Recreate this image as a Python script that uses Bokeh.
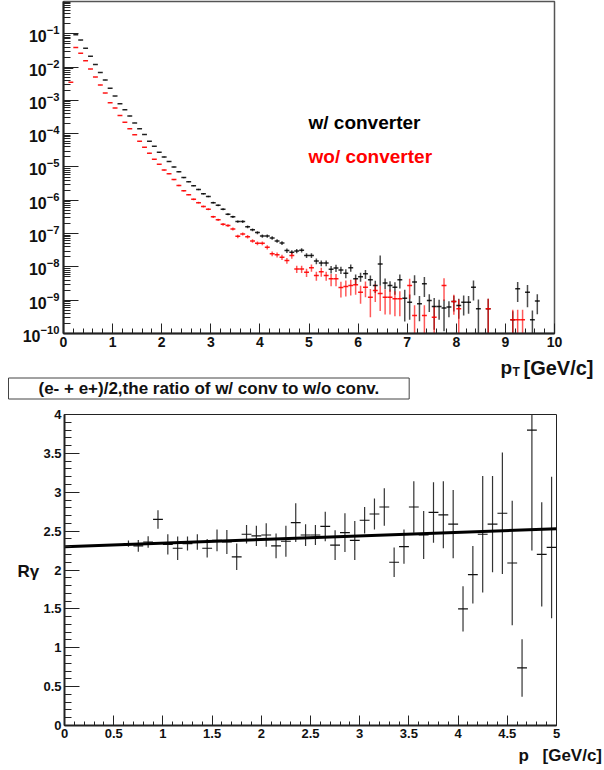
from bokeh.plotting import figure
from bokeh.layouts import column, row
from bokeh.models import (FixedTicker, Label, CustomJSTickFormatter, ColumnDataSource,
                          Range1d, LogTickFormatter)
from bokeh.embed import file_html
from bokeh.resources import INLINE

# ---------------- data: top panel, pT spectra (bin width 0.1 GeV/c) ----------------
pt_w = [0.15, 0.25, 0.35, 0.45, 0.55, 0.65, 0.75, 0.85, 0.95, 1.05,
        1.15, 1.25, 1.35, 1.45, 1.55, 1.65, 1.75, 1.85, 1.95, 2.05,
        2.15, 2.25, 2.35, 2.45, 2.55, 2.65, 2.75, 2.85, 2.95, 3.05,
        3.15, 3.25, 3.35, 3.45, 3.55, 3.65, 3.75, 3.85, 3.95, 4.05,
        4.15, 4.25, 4.35, 4.45, 4.55, 4.65, 4.75, 4.85, 4.95, 5.05,
        5.15, 5.25, 5.35, 5.45, 5.55, 5.65, 5.75, 5.85, 5.95, 6.05,
        6.15, 6.25, 6.35, 6.45, 6.55, 6.65, 6.75, 6.85, 6.95, 7.05,
        7.15, 7.25, 7.35, 7.45, 7.55, 7.65, 7.75, 7.85, 7.95, 8.05,
        8.15, 8.25, 8.35, 8.45,
        8.65, 9.15, 9.25, 9.45, 9.55, 9.65]
yield_w = [9.3e-3, 9.3e-2, 6.5e-2, 3.7e-2, 2.1e-2, 1.2e-2, 6.9e-3, 4.1e-3, 2.3e-3, 1.35e-3,
           7.9e-4, 5.2e-4, 3.4e-4, 2.1e-4, 1.4e-4, 9.5e-5, 5.9e-5, 4.2e-5, 2.75e-5, 2.0e-5,
           1.45e-5, 1.0e-5, 7.2e-6, 4.8e-6, 3.6e-6, 2.75e-6, 2.1e-6, 1.58e-6, 1.3e-6, 8.5e-7,
           7.1e-7, 5.4e-7, 3.8e-7, 3.2e-7, 2.3e-7, 2.3e-7, 1.6e-7, 1.3e-7, 1.07e-7, 8.5e-8,
           8.5e-8, 7.4e-8, 6.0e-8, 5.2e-8, 3.1e-8, 2.75e-8, 3.0e-8, 3.16e-8, 2.2e-8, 2.2e-8,
           1.5e-8, 1.3e-8, 1.3e-8, 8.5e-9, 9.3e-9, 8.1e-9, 6.5e-9, 9.5e-9, 4.4e-9, 5.1e-9,
           6.2e-9, 4.1e-9, 2.75e-9, 1.23e-8, 3.3e-9, 2.75e-9, 2.45e-9, 4.1e-9, 1.15e-9, 8.7e-10,
           3.5e-9, 7.8e-10, 3.1e-9, 9.8e-10, 6.5e-10, 6.5e-10, 5.8e-10, 6.2e-10, 9.1e-10, 6.9e-10,
           8.7e-10, 8.7e-10, 2.45e-9, 5.5e-10,
           5.5e-10, 2.6e-10, 2.2e-9, 1.74e-9, 2.6e-10, 9.5e-10]
relerr_w = [0.02, 0.01, 0.01, 0.01, 0.01, 0.01, 0.01, 0.01, 0.01, 0.01,
            0.01, 0.01, 0.01, 0.01, 0.02, 0.02, 0.02, 0.02, 0.02, 0.03,
            0.03, 0.03, 0.03, 0.04, 0.04, 0.04, 0.05, 0.05, 0.05, 0.06,
            0.06, 0.07, 0.07, 0.08, 0.08, 0.09, 0.09, 0.10, 0.10, 0.11,
            0.11, 0.12, 0.12, 0.13, 0.15, 0.15, 0.15, 0.15, 0.16, 0.16,
            0.20, 0.20, 0.20, 0.25, 0.25, 0.25, 0.30, 0.25, 0.35, 0.30,
            0.30, 0.35, 0.40, 0.78, 0.35, 0.35, 0.40, 0.45, 0.80, 0.70,
            0.60, 0.70, 0.60, 0.55, 0.80, 0.60, 0.80, 0.50, 0.50, 0.60,
            0.60, 0.55, 0.60, 0.90,
            1.00, 0.80, 0.60, 0.65, 0.90, 0.60]

pt_wo = [0.15, 0.25, 0.35, 0.45, 0.55, 0.65, 0.75, 0.85, 0.95, 1.05,
         1.15, 1.25, 1.35, 1.45, 1.55, 1.65, 1.75, 1.85, 1.95, 2.05,
         2.15, 2.25, 2.35, 2.45, 2.55, 2.65, 2.75, 2.85, 2.95, 3.05,
         3.15, 3.25, 3.35, 3.45, 3.55, 3.65, 3.75, 3.85, 3.95, 4.05,
         4.15, 4.25, 4.35, 4.45, 4.55, 4.65, 4.75, 4.85, 4.95, 5.05,
         5.15, 5.25, 5.35, 5.45, 5.55, 5.65, 5.75, 5.85, 5.95, 6.05,
         6.15, 6.25, 6.35, 6.45, 6.55, 6.65, 6.75, 6.85,
         7.05, 7.15, 7.35, 7.55, 7.75, 7.95, 8.05, 8.65, 9.15, 9.25, 9.35]
yield_wo = [3.5e-3, 3.9e-2, 2.6e-2, 1.55e-2, 8.7e-3, 5.0e-3, 2.9e-3, 1.66e-3, 8.5e-4, 5.9e-4,
            3.5e-4, 2.2e-4, 1.41e-4, 9.3e-5, 5.9e-5, 3.9e-5, 2.6e-5, 1.7e-5, 1.2e-5, 8.1e-6,
            6.3e-6, 4.2e-6, 2.8e-6, 1.95e-6, 1.48e-6, 1.07e-6, 8.5e-7, 6.5e-7, 5.4e-7, 3.2e-7,
            2.6e-7, 1.9e-7, 1.74e-7, 1.38e-7, 8.3e-8, 9.8e-8, 8.1e-8, 6.0e-8, 5.1e-8, 5.1e-8,
            3.9e-8, 2.5e-8, 2.3e-8, 1.95e-8, 1.55e-8, 2.2e-8, 8.7e-9, 8.7e-9, 6.9e-9, 9.5e-9,
            5.5e-9, 7.2e-9, 5.5e-9, 4.4e-9, 4.4e-9, 2.4e-9, 2.6e-9, 2.75e-9, 2.9e-9, 1.74e-9,
            2.45e-9, 1.23e-9, 1.95e-9, 1.58e-9, 1.23e-9, 1.23e-9, 1.1e-9, 1.1e-9,
            2.75e-9, 3.5e-10, 3.5e-10, 3.1e-10, 2.75e-9, 9.1e-10, 5.5e-10, 5.5e-10, 2.6e-10, 2.6e-10, 2.6e-10]
relerr_wo = [0.02, 0.01, 0.01, 0.01, 0.01, 0.01, 0.01, 0.01, 0.02, 0.02,
             0.02, 0.02, 0.02, 0.02, 0.03, 0.03, 0.03, 0.03, 0.03, 0.04,
             0.04, 0.04, 0.05, 0.05, 0.05, 0.06, 0.06, 0.07, 0.07, 0.08,
             0.08, 0.09, 0.10, 0.10, 0.12, 0.11, 0.12, 0.12, 0.13, 0.13,
             0.15, 0.17, 0.17, 0.18, 0.20, 0.20, 0.25, 0.25, 0.28, 0.25,
             0.30, 0.30, 0.30, 0.40, 0.40, 0.50, 0.50, 0.50, 0.50, 0.55,
             0.50, 0.75, 0.55, 0.70, 0.70, 0.70, 0.70, 0.70,
             0.60, 1.00, 1.00, 1.00, 0.65, 0.60, 0.90, 1.00, 1.00, 1.00, 1.00]

# ---------------- data: bottom panel, ratio w/ conv to w/o conv ----------------
p_ratio = [0.65, 0.75, 0.85, 0.95, 1.05, 1.15, 1.25, 1.35, 1.45, 1.55,
           1.65, 1.75, 1.85, 1.95, 2.05, 2.15, 2.25, 2.35, 2.45, 2.55,
           2.65, 2.75, 2.85, 2.95, 3.05, 3.15, 3.25, 3.35, 3.45, 3.55,
           3.65, 3.75, 3.85, 3.95, 4.05, 4.15, 4.25, 4.35, 4.45, 4.55,
           4.65, 4.75, 4.85, 4.95]
ratio = [2.34, 2.31, 2.36, 2.65, 2.33, 2.28, 2.34, 2.36, 2.28, 2.38,
         2.36, 2.17, 2.46, 2.44, 2.45, 2.31, 2.37, 2.61, 2.45, 2.45,
         2.56, 2.32, 2.48, 2.38, 2.64, 2.72, 2.81, 2.10, 2.30, 2.81,
         2.45, 2.74, 2.71, 2.59, 1.50, 1.94, 2.46, 2.59, 2.73, 2.09,
         0.74, 3.80, 2.20, 2.29]
ratio_err = [0.04, 0.075, 0.075, 0.12, 0.13, 0.15, 0.09, 0.10, 0.12, 0.14,
             0.155, 0.17, 0.12, 0.13, 0.15, 0.16, 0.20, 0.25, 0.14, 0.13,
             0.19, 0.19, 0.25, 0.25, 0.17, 0.20, 0.24, 0.19, 0.22, 0.33,
             0.31, 0.39, 0.43, 0.44, 0.29, 0.37, 0.75, 0.62, 0.78, 0.80,
             0.37, 1.55, 0.67, 0.91]
fit_p0 = 2.30
fit_p1 = 0.046
fit_range = [0.0, 5.0]
bin_half = 0.05

TITLE = "(e- + e+)/2,the ratio of w/ conv to w/o conv."
FONT = "Liberation Sans"
BLACK = "#000000"
RED = "#ff0000"
INK = "#111111"


def spectrum_source(xs, ys, rel):
    lo_clip = 1e-12
    return ColumnDataSource(dict(
        x=xs, y=ys,
        xl=[x - bin_half for x in xs], xr=[x + bin_half for x in xs],
        ylo=[max(y * (1 - r), lo_clip) for y, r in zip(ys, rel)],
        yhi=[y * (1 + r) for y, r in zip(ys, rel)],
    ))


def style_axis(ax, major_in, minor_in, size, standoff):
    ax.major_tick_in = major_in
    ax.major_tick_out = 0
    ax.minor_tick_in = minor_in
    ax.minor_tick_out = 0
    ax.axis_line_width = 2
    ax.axis_line_color = "#222222"
    ax.major_tick_line_color = "#222222"
    ax.minor_tick_line_color = "#222222"
    ax.major_tick_line_width = 1
    ax.minor_tick_line_width = 1
    ax.major_label_text_font = FONT
    ax.major_label_text_font_style = "bold"
    ax.major_label_text_font_size = size
    ax.major_label_text_color = INK
    ax.major_label_standoff = standoff


def strip(width, height):
    """Axis-less text strip; labels are placed in px from its top-left."""
    s = figure(frame_width=width, frame_height=height,
               x_range=Range1d(0, width), y_range=Range1d(height, 0),
               x_axis_location=None, y_axis_location=None, title_location=None,
               min_border_left=0, min_border_right=0, min_border_top=0, min_border_bottom=0,
               output_backend="svg", toolbar_location=None)
    s.grid.visible = False
    s.outline_line_color = None
    s.background_fill_color = "white"
    s.border_fill_color = "white"
    return s


def text(fig, x, y, t, size, color=INK, style="bold", **kw):
    fig.add_layout(Label(x=x, y=y, text=t, text_color=color, text_font=FONT,
                         text_font_style=style, text_font_size=size, **kw))


# ---------------- top figure ----------------
top = figure(frame_width=491, frame_height=332, y_axis_type="log",
             x_range=Range1d(0, 10), y_range=Range1d(1e-10, 0.933),
             min_border_left=63, min_border_right=50, min_border_top=1, min_border_bottom=20,
             title_location=None,
             output_backend="svg", toolbar_location=None)
top.grid.visible = False
top.outline_line_color = "#555555"
top.outline_line_width = 1.5
top.background_fill_color = "white"
top.border_fill_color = "white"

top.xaxis.ticker = FixedTicker(ticks=list(range(0, 11)),
                               minor_ticks=[i * 0.2 for i in range(51)])
top.yaxis.ticker = FixedTicker(ticks=[10.0 ** e for e in range(-10, 0)],
                               minor_ticks=[m * 10.0 ** e for e in range(-10, 0) for m in range(2, 10)])
top.yaxis.formatter = LogTickFormatter()
style_axis(top.xaxis[0], 10, 5, "14px", 3)
style_axis(top.yaxis[0], 15, 7, "16px", 4)

src_w = spectrum_source(pt_w, yield_w, relerr_w)
src_wo = spectrum_source(pt_wo, yield_wo, relerr_wo)

top.segment(x0="x", y0="ylo", x1="x", y1="yhi", source=src_w, line_color=BLACK,
            line_alpha=0.7, line_width=1.5)
top.segment(x0="x", y0="ylo", x1="x", y1="yhi", source=src_wo, line_color=RED,
            line_alpha=0.65, line_width=1.5)
top.segment(x0="xl", y0="y", x1="xr", y1="y", source=src_w, line_color=BLACK,
            line_alpha=0.85, line_width=1.5)
top.segment(x0="xl", y0="y", x1="xr", y1="y", source=src_wo, line_color=RED,
            line_alpha=0.9, line_width=1.5)

text(top, 4.99, 1.02e-4, "w/ converter", "19px", color=BLACK)
text(top, 4.99, 9.7e-6, "wo/ converter", "19px", color=RED)

# ---------------- strip between panels (page y 353..406) ----------------
MID_TOP = 353
mid = strip(604, 53)
text(mid, 500, 367 - MID_TOP, "p", "19px", text_baseline="alphabetic")
text(mid, 512, 371 - MID_TOP, "T", "12px", text_baseline="alphabetic")
text(mid, 523, 367 - MID_TOP, "[GeV/c]", "20px", text_baseline="alphabetic")
text(mid, 8, 388 - MID_TOP, TITLE, "17px", text_baseline="middle",
     border_line_color="#444444", border_line_width=1, background_fill_color="white",
     padding=dict(left=30, right=30, top=1, bottom=1))

# ---------------- bottom figure ----------------
bot = figure(frame_width=492, frame_height=311,
             x_range=Range1d(0, 5), y_range=Range1d(0, 4),
             min_border_left=23, min_border_right=49, min_border_top=8, min_border_bottom=18,
             title_location=None,
             output_backend="svg", toolbar_location=None)
bot.grid.visible = False
bot.outline_line_color = "#222222"
bot.outline_line_width = 1
bot.background_fill_color = "white"
bot.border_fill_color = "white"
bot.xaxis.ticker = FixedTicker(ticks=[i * 0.5 for i in range(11)],
                               minor_ticks=[i * 0.1 for i in range(51)])
bot.yaxis.ticker = FixedTicker(ticks=[i * 0.5 for i in range(9)],
                               minor_ticks=[i * 0.1 for i in range(41)])
fmt = CustomJSTickFormatter(code="return String(Math.round(tick * 10) / 10);")
bot.xaxis.formatter = fmt
bot.yaxis.formatter = fmt
style_axis(bot.xaxis[0], 10, 4, "13px", 3)
style_axis(bot.yaxis[0], 15, 7, "13px", 3)

src_r = ColumnDataSource(dict(
    x=p_ratio, y=ratio,
    xl=[x - bin_half for x in p_ratio], xr=[x + bin_half for x in p_ratio],
    ylo=[y - e for y, e in zip(ratio, ratio_err)],
    yhi=[y + e for y, e in zip(ratio, ratio_err)],
))
bot.segment(x0="x", y0="ylo", x1="x", y1="yhi", source=src_r, line_color="#333333",
            line_width=1.2)
bot.segment(x0="xl", y0="y", x1="xr", y1="y", source=src_r, line_color=INK,
            line_width=1.2)
bot.line(x=fit_range, y=[fit_p0 + fit_p1 * x for x in fit_range], line_color=BLACK,
         line_width=3)

# y title strip, left of bottom panel (page y 406..743)
YL_TOP = 406
ylab = strip(40, 337)
text(ylab, 17, 563 - YL_TOP, "Rγ", "17px", text_baseline="alphabetic")

# x title strip, below bottom panel (page y 743..770)
XL_TOP = 743
xlab = strip(604, 27)
text(xlab, 518, 755 - XL_TOP, "p", "17px", text_baseline="alphabetic")
text(xlab, 542, 755 - XL_TOP, "[GeV/c]", "17px", text_baseline="alphabetic")

# each band wrapped in its own row so that the column does not align plot frames
layout = column(row(top, spacing=0), row(mid, spacing=0), row(ylab, bot, spacing=0),
                row(xlab, spacing=0), spacing=0)
open("out.html", "w").write(file_html(layout, INLINE))
